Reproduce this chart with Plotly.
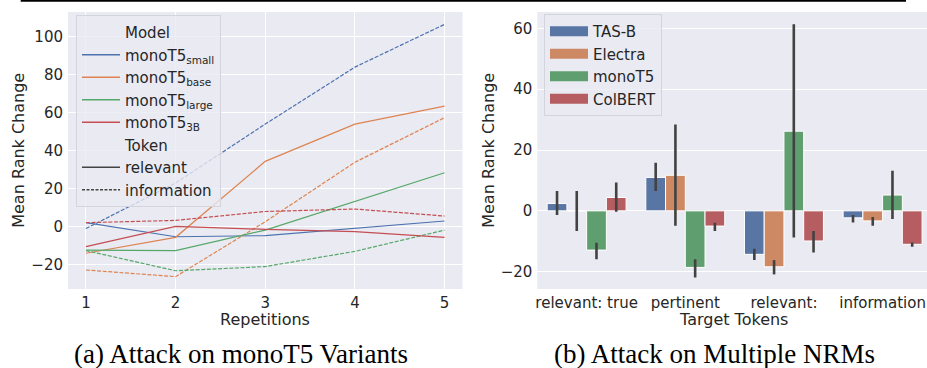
import plotly.graph_objects as go

# ---------------- data: left panel (monoT5 variants) ----------------
repetitions = [1, 2, 3, 4, 5]
small_relevant = [2.1, -5.3, -4.7, -1.0, 3.0]
small_information = [-1.0, 23.0, 54.0, 84.0, 106.5]
base_relevant = [-14.0, -5.6, 34.4, 54.0, 63.5]
base_information = [-22.8, -26.3, 2.6, 33.9, 57.4]
large_relevant = [-12.3, -12.6, -1.8, 13.3, 28.4]
large_information = [-12.6, -23.2, -21.0, -13.0, -1.8]
b3_relevant = [-10.5, 0.2, -1.4, -2.6, -5.6]
b3_information = [2.1, 3.3, 8.0, 9.3, 5.6]
model_names = ["monoT5<sub>small</sub>", "monoT5<sub>base</sub>",
               "monoT5<sub>large</sub>", "monoT5<sub>3B</sub>"]
left_yticks = [-20, 0, 20, 40, 60, 80, 100]

# ---------------- data: right panel (multiple NRMs) ----------------
tokens = ["relevant: true", "pertinent", "relevant:", "information"]
nrm_names = ["TAS-B", "Electra", "monoT5", "ColBERT"]
tasb_mean = [2.4, 11.0, -14.3, -2.3]
tasb_low = [-1.4, 6.5, -16.2, -3.8]
tasb_high = [6.5, 15.8, -12.5, -1.4]
electra_mean = [0.0, 11.7, -18.4, -3.3]
electra_low = [-6.6, -4.9, -20.9, -4.9]
electra_high = [6.5, 28.4, -16.2, -2.0]
monot5_mean = [-12.9, -18.6, 26.2, 5.2]
monot5_low = [-15.9, -21.9, -8.8, -2.7]
monot5_high = [-10.5, -15.9, 61.4, 13.2]
colbert_mean = [4.4, -5.0, -9.9, -11.0]
colbert_low = [-0.3, -6.6, -13.7, -11.8]
colbert_high = [9.3, -3.9, -6.6, -10.4]
right_yticks = [-20, 0, 20, 40, 60]

# ---------------- styling ----------------
line_colors = ["#4C72B0", "#DD8452", "#55A868", "#C44E52"]
bar_colors = ["#5975a4", "#cc8963", "#5f9e6e", "#b55d60"]
BG = "#EAEAF2"
TXT = "#262626"
FONT = "DejaVu Sans"

W, H = 927, 368
ML, MR, MT, MB = 68, 0, 12, 79
PW = W - ML - MR
PH = H - MT - MB


def px_x(p):
    return (p - ML) / PW


def px_y(p):
    return (H - MB - p) / PH


fig = go.Figure()

# left panel lines
rel_sets = [small_relevant, base_relevant, large_relevant, b3_relevant]
inf_sets = [small_information, base_information, large_information, b3_information]
for i in range(4):
    fig.add_trace(go.Scatter(x=repetitions, y=rel_sets[i], mode="lines",
                             line=dict(color=line_colors[i], width=1.2),
                             showlegend=False, xaxis="x", yaxis="y"))
    fig.add_trace(go.Scatter(x=repetitions, y=inf_sets[i], mode="lines",
                             line=dict(color=line_colors[i], width=1.2, dash="4px,1.6px"),
                             showlegend=False, xaxis="x", yaxis="y"))

# left legend entries
def dummy(name, color, dash="solid", legend="legend", width=1.5):
    return go.Scatter(x=[None], y=[None], mode="lines", name=name,
                      line=dict(color=color, width=width, dash=dash),
                      legend=legend, xaxis="x", yaxis="y")

fig.add_trace(dummy("Model", "rgba(0,0,0,0)"))
for i in range(4):
    fig.add_trace(dummy(model_names[i], line_colors[i]))
fig.add_trace(dummy("Token", "rgba(0,0,0,0)"))
fig.add_trace(dummy("relevant", "#444444"))
fig.add_trace(dummy("information", "#444444", dash="3px,1.5px"))

# right panel bars
means = [tasb_mean, electra_mean, monot5_mean, colbert_mean]
lows = [tasb_low, electra_low, monot5_low, colbert_low]
highs = [tasb_high, electra_high, monot5_high, colbert_high]
for i in range(4):
    up = [h - m for h, m in zip(highs[i], means[i])]
    dn = [m - l for m, l in zip(means[i], lows[i])]
    fig.add_trace(go.Bar(x=tokens, y=means[i], name=nrm_names[i],
                         marker=dict(color=bar_colors[i], line=dict(color="white", width=1)),
                         error_y=dict(type="data", symmetric=False, array=up, arrayminus=dn,
                                      color="#424242", thickness=2.6, width=0),
                         showlegend=False, xaxis="x2", yaxis="y2"))
for i in range(4):
    fig.add_trace(go.Scatter(x=[None], y=[None], mode="lines", name=nrm_names[i],
                             line=dict(color=bar_colors[i], width=10),
                             legend="legend2", xaxis="x2", yaxis="y2"))

axis_common = dict(showgrid=True, gridcolor="white", gridwidth=1.2, zeroline=False,
                   showline=False, ticks="", tickfont=dict(family=FONT, size=15, color=TXT))

fig.update_layout(
    width=W, height=H,
    margin=dict(l=ML, r=MR, t=MT, b=MB, autoexpand=False),
    paper_bgcolor="white", plot_bgcolor=BG,
    font=dict(family=FONT, color=TXT, size=15),
    barmode="group", bargap=0.2, bargroupgap=0,
    xaxis=dict(domain=[0, px_x(462.5)], range=[0.8, 5.2], tickvals=repetitions,
               ticklabelstandoff=3, anchor="y", **axis_common),
    yaxis=dict(domain=[0, 1], range=[-32.8, 113], tickvals=left_yticks,
               ticklabelstandoff=4, anchor="x", **axis_common),
    xaxis2=dict(domain=[px_x(537.3), 1], range=[-0.5, 3.45], type="category",
                ticklabelstandoff=3, anchor="y2", **{**axis_common, "showgrid": False}),
    yaxis2=dict(domain=[0, 1], range=[-25.7, 65.4], tickvals=right_yticks,
                ticklabelstandoff=4, anchor="x2", **axis_common),
    legend=dict(x=px_x(76), y=px_y(15), xanchor="left", yanchor="top", itemwidth=38,
                bgcolor="rgba(234,234,242,0.8)", bordercolor="#d4d4dc", borderwidth=1,
                font=dict(family=FONT, size=15, color=TXT), tracegroupgap=0),
    legend2=dict(x=px_x(544), y=px_y(14), xanchor="left", yanchor="top", itemwidth=38,
                 bgcolor="rgba(234,234,242,0.8)", bordercolor="#d4d4dc", borderwidth=1,
                 font=dict(family=FONT, size=15, color=TXT), tracegroupgap=0),
    showlegend=True,
)

ann = []
ann.append(dict(text="Mean Rank Change", x=px_x(18.3), y=0.5, xref="paper", yref="paper",
                textangle=-90, showarrow=False, xanchor="center", yanchor="middle",
                font=dict(family=FONT, size=16, color=TXT)))
ann.append(dict(text="Mean Rank Change", x=px_x(488.3), y=0.5, xref="paper", yref="paper",
                textangle=-90, showarrow=False, xanchor="center", yanchor="middle",
                font=dict(family=FONT, size=16, color=TXT)))
ann.append(dict(text="Repetitions", x=px_x(265), y=px_y(319.5), xref="paper", yref="paper",
                showarrow=False, xanchor="center", yanchor="middle",
                font=dict(family=FONT, size=16, color=TXT)))
ann.append(dict(text="Target Tokens", x=px_x(733), y=px_y(319.5), xref="paper", yref="paper",
                showarrow=False, xanchor="center", yanchor="middle",
                font=dict(family=FONT, size=16, color=TXT)))
ann.append(dict(text="(a) Attack on monoT5 Variants", x=px_x(241), y=px_y(354), xref="paper",
                yref="paper", showarrow=False, xanchor="center", yanchor="middle",
                font=dict(family="Liberation Serif", size=27, color="black")))
ann.append(dict(text="(b) Attack on Multiple NRMs", x=px_x(714), y=px_y(354), xref="paper",
                yref="paper", showarrow=False, xanchor="center", yanchor="middle",
                font=dict(family="Liberation Serif", size=27, color="black")))
fig.update_layout(annotations=ann)

fig.add_shape(type="line", xref="paper", yref="paper", x0=px_x(20.7), x1=px_x(906),
              y0=px_y(0.8), y1=px_y(0.8), line=dict(color="black", width=2))

fig.write_html("out.html", config={"displayModeBar": False},
               post_script="document.body.style.margin='0';document.body.style.overflow='hidden';")
